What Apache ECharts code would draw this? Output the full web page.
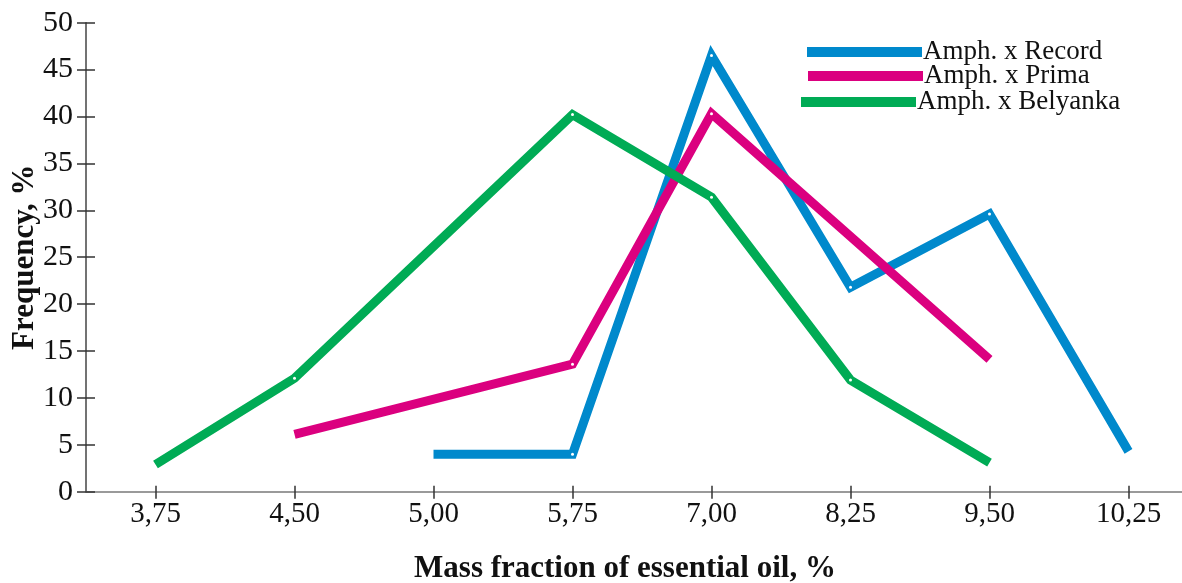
<!DOCTYPE html>
<html>
<head>
<meta charset="utf-8">
<script src="https://cdn.jsdelivr.net/npm/echarts@6/dist/echarts.min.js"></script>
<style>html,body{margin:0;padding:0;background:#fff}#c{width:1182px;height:583px}</style>
</head>
<body>
<div id="c"></div>
<script>
var categories = ['3,75', '4,50', '5,00', '5,75', '7,00', '8,25', '9,50', '10,25'];
var seriesNames = ['Amph. x Record', 'Amph. x Prima', 'Amph. x Belyanka'];
var record   = [null, null, 4, 4, 46.5, 21.8, 29.6, 4.3];
var prima    = [null, 6.1, null, 13.6, 40.3, null, 14.1, null];
var belyanka = [2.9, 12.1, null, 40.2, 31.4, 11.9, 3.1, null];
var yTicks = {min: 0, max: 50, interval: 5};
var colors = ['#0089cc', '#db007f', '#00ab55'];

var FONT = '"Liberation Serif", "Times New Roman", serif';

function endSize(arr) {
  var first = -1, last = -1;
  arr.forEach(function (v, i) { if (v != null) { if (first < 0) first = i; last = i; } });
  return function (val, p) { return (p.dataIndex === first || p.dataIndex === last) ? 0 : 3; };
}

function mkSeries(name, data, color) {
  return {
    name: name, type: 'line', data: data, connectNulls: true,
    symbol: 'circle', symbolSize: endSize(data), showSymbol: true,
    itemStyle: {color: '#ffffff', borderWidth: 0},
    lineStyle: {color: color, width: 9, cap: 'butt', join: 'miter', miterLimit: 10},
    emphasis: {disabled: true}, z: 2
  };
}

function mkLegend(name, color, left, top) {
  return {
    left: left, top: top, orient: 'vertical', padding: 0,
    itemWidth: 115, itemHeight: 10, itemGap: 0, icon: 'rect',
    selectedMode: false,
    data: [{name: name, itemStyle: {color: color}}],
    textStyle: {fontFamily: FONT, fontSize: 27, color: '#111', padding: [0, 0, 0, -4], lineHeight: 30}
  };
}

var option = {
  animation: false,
  backgroundColor: '#fff',
  grid: {left: 86, top: 22.7, width: 1112, height: 469, outerBoundsMode: 'none', containLabel: false},
  title: {
    text: 'Mass fraction of essential oil, %',
    left: 620, top: 548, textAlign: 'center',
    textStyle: {fontFamily: FONT, fontSize: 31, fontWeight: 'bold', color: '#111'}
  },
  legend: [
    mkLegend(seriesNames[0], colors[0], 807, 37),
    mkLegend(seriesNames[1], colors[1], 808, 61),
    mkLegend(seriesNames[2], colors[2], 801, 87)
  ],
  xAxis: [{
    type: 'category', data: categories, boundaryGap: true, position: 'bottom',
    axisLine: {lineStyle: {color: '#7a7a7a', width: 1.5}},
    axisTick: {show: true, alignWithLabel: true, inside: false, length: 7, lineStyle: {color: '#333', width: 1.5}},
    axisLabel: {fontFamily: FONT, fontSize: 29, color: '#111', margin: 8},
    splitLine: {show: false}
  }, {
    type: 'category', data: categories, boundaryGap: true, position: 'bottom', offset: 0,
    axisLine: {show: false},
    axisTick: {show: true, alignWithLabel: true, inside: true, length: 6, lineStyle: {color: '#333', width: 1.5}},
    axisLabel: {show: false},
    splitLine: {show: false}
  }],
  yAxis: [{
    type: 'value', min: yTicks.min, max: yTicks.max, interval: yTicks.interval, position: 'left',
    name: 'Frequency, %', nameLocation: 'middle', nameGap: 46, nameRotate: 90, nameMoveOverlap: false,
    nameTextStyle: {fontFamily: FONT, fontSize: 31, fontWeight: 'bold', color: '#111'},
    axisLine: {show: true, lineStyle: {color: '#444', width: 1.5}},
    axisTick: {show: true, inside: false, length: 9, lineStyle: {color: '#333', width: 1.5}},
    axisLabel: {fontFamily: FONT, fontSize: 30, color: '#111', margin: 13},
    splitLine: {show: false}
  }, {
    type: 'value', min: yTicks.min, max: yTicks.max, interval: yTicks.interval, position: 'left', offset: 0,
    axisLine: {show: false},
    axisTick: {show: true, inside: true, length: 9, lineStyle: {color: '#333', width: 1.5}},
    axisLabel: {show: false},
    splitLine: {show: false}
  }],
  series: [
    mkSeries(seriesNames[0], record, colors[0]),
    mkSeries(seriesNames[1], prima, colors[1]),
    mkSeries(seriesNames[2], belyanka, colors[2])
  ]
};

var chart = echarts.init(document.getElementById('c'), null, {renderer: 'canvas'});
chart.setOption(option);
</script>
</body>
</html>
